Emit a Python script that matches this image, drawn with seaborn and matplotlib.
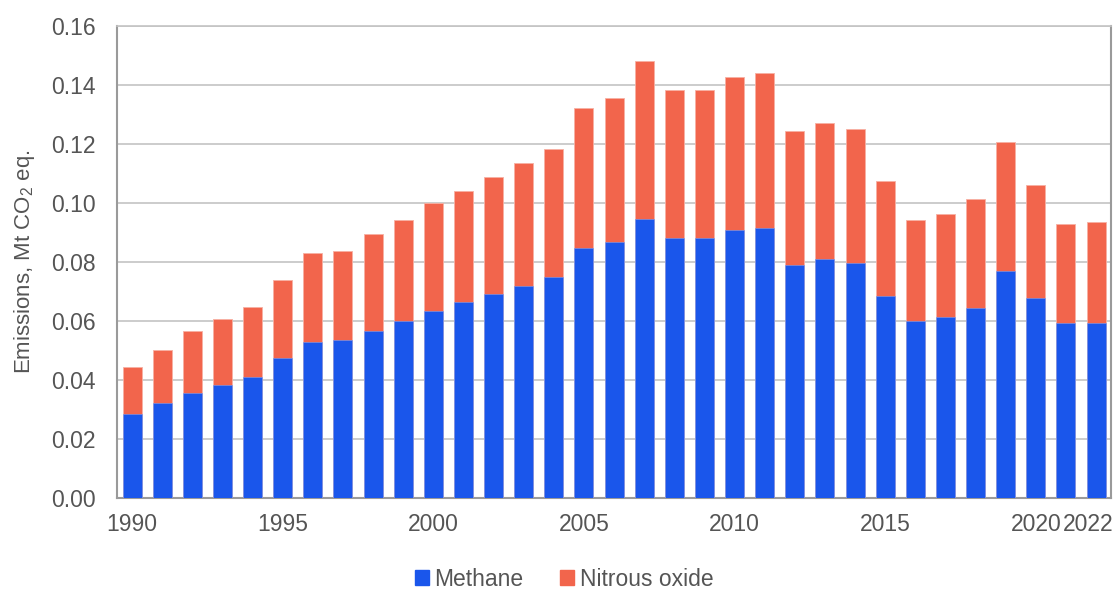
import numpy as np
import pandas as pd
import seaborn as sns
import matplotlib.pyplot as plt
import matplotlib.transforms as mtransforms
from matplotlib.patches import Patch

years = list(range(1990, 2023))
methane = [0.0285, 0.0321, 0.0355, 0.0383, 0.0411, 0.0473, 0.0530, 0.0537, 0.0565, 0.0599,
           0.0635, 0.0663, 0.0692, 0.0720, 0.0748, 0.0846, 0.0868, 0.0945, 0.0880, 0.0880,
           0.0908, 0.0915, 0.0790, 0.0810, 0.0797, 0.0685, 0.0600, 0.0615, 0.0643, 0.0768,
           0.0677, 0.0592, 0.0592]
nitrous = [0.0160, 0.0181, 0.0210, 0.0224, 0.0238, 0.0267, 0.0302, 0.0300, 0.0329, 0.0343,
           0.0364, 0.0378, 0.0396, 0.0416, 0.0434, 0.0475, 0.0489, 0.0537, 0.0503, 0.0503,
           0.0518, 0.0525, 0.0454, 0.0462, 0.0454, 0.0391, 0.0342, 0.0349, 0.0369, 0.0440,
           0.0384, 0.0337, 0.0344]
label_years = [1990, 1995, 2000, 2005, 2010, 2015, 2020, 2022]

df = pd.DataFrame({'year': [str(y) for y in years], 'methane': methane, 'nitrous': nitrous})
df['total'] = df['methane'] + df['nitrous']

sns.set_style('white')
plt.rcParams['font.family'] = ['Liberation Sans', 'DejaVu Sans']
plt.rcParams['mathtext.fontset'] = 'custom'
plt.rcParams['mathtext.rm'] = 'Liberation Sans'
plt.rcParams['mathtext.it'] = 'Liberation Sans'

blue = '#1a56eb'
orange = '#f2654c'
txt = '#555555'
grid = '#c4c4c4'

fig = plt.figure(figsize=(11.17, 5.89), dpi=100)
ax = fig.add_axes([0.1047, 0.1545, 0.89, 0.8014])

sns.barplot(data=df, x='year', y='total', color=orange, width=0.63, saturation=1,
            edgecolor='#f7b0a3', linewidth=0.6, ax=ax, zorder=3)
sns.barplot(data=df, x='year', y='methane', color=blue, width=0.63, saturation=1,
            edgecolor='#7d9df2', linewidth=0.4, ax=ax, zorder=4)

ax.set_ylim(0, 0.16)
ax.set_xlim(-0.5, len(years) - 0.5)
ax.set_yticks(np.arange(0, 0.161, 0.02))
ax.set_yticklabels([f'{v:.2f}' for v in np.arange(0, 0.161, 0.02)])
ax.yaxis.grid(True, color=grid, linewidth=1.2, zorder=0)
ax.set_axisbelow(True)

ax.set_xticks([years.index(y) for y in label_years])
ax.set_xticklabels([str(y) for y in label_years])
ax.set_xticks(np.arange(-0.5, len(years), 1), minor=True)
ax.tick_params(axis='x', which='major', length=0, pad=11, labelsize=16.5, labelcolor=txt)
ax.tick_params(axis='x', which='minor', length=6, width=1.2, color='#9a9a9a', direction='out')
ax.tick_params(axis='y', length=6, width=1.2, color='#9a9a9a', direction='out',
               labelsize=16.5, labelcolor=txt, pad=9)

# last label sits a bit left, as in the source chart
last = ax.get_xticklabels()[-1]
last.set_transform(last.get_transform() + mtransforms.ScaledTranslation(-8 / 100, 0, fig.dpi_scale_trans))

for side in ['left', 'right', 'bottom']:
    ax.spines[side].set_color('#9a9a9a')
    ax.spines[side].set_linewidth(1.5)
ax.spines['top'].set_color(grid)
ax.spines['top'].set_linewidth(1.2)

ax.set_xlabel('')
ax.set_ylabel('Emissions, Mt CO$_2$ eq.', fontsize=16, color=txt)
ax.yaxis.set_label_coords(-0.08, 0.5)

handles = [Patch(color=blue, label='Methane'), Patch(color=orange, label='Nitrous oxide')]
fig.legend(handles=handles, loc='lower center', bbox_to_anchor=(0.505, -0.038), ncol=2,
           frameon=False, fontsize=16.5, labelcolor=txt, handlelength=0.6, handleheight=0.6,
           handletextpad=0.25, columnspacing=1.6)

fig.savefig('out.png', dpi=100)
